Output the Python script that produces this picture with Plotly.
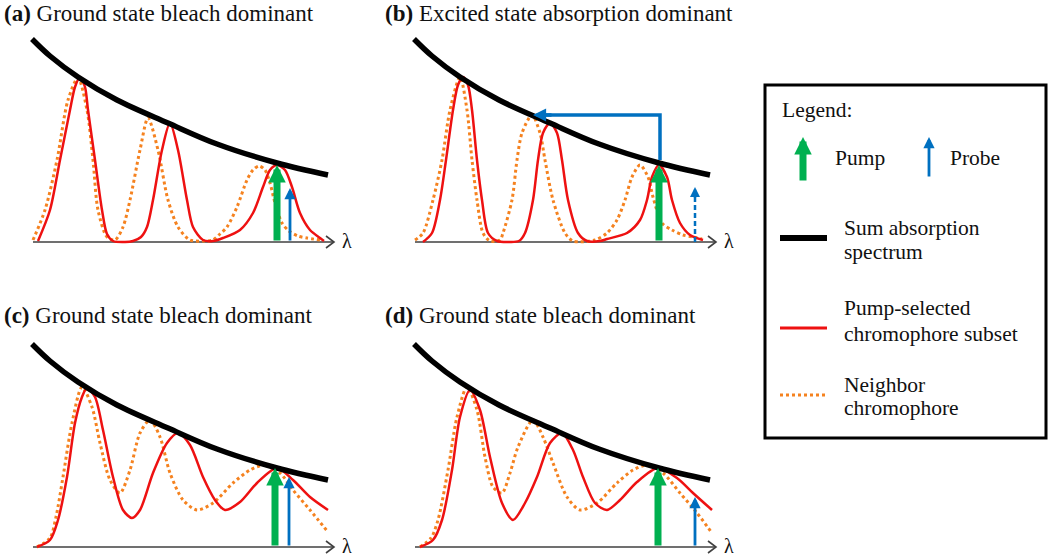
import plotly.graph_objects as go

W, H = 1050, 557

GREEN = "#00B050"
BLUE = "#0070C0"
RED = "#EE1111"
ORANGE = "#F5821F"
FONT = "Liberation Serif"

# -----------------------------
# Data (u = wavelength position, v = absorbance)
# -----------------------------
panels = ["a", "b", "c", "d"]
titles = [
    "Ground state bleach dominant",
    "Excited state absorption dominant",
    "Ground state bleach dominant",
    "Ground state bleach dominant",
]

# sum absorption spectrum, same in every panel
sum_u = [-1, 17, 45, 84, 135, 184, 244, 295]
sum_v = [203, 186, 165, 142, 119, 98, 79, 67]

# (a)
a_red_u = [5, 17, 27, 37, 42, 47, 52, 55, 62, 69, 74, 80, 92, 100, 108, 114, 120, 129, 137,
           145, 154, 160, 170, 180, 190, 207, 220, 230, 237, 244, 252, 259, 267, 277, 287, 291]
a_red_v = [1, 32, 82, 132, 155, 165, 155, 132, 82, 32, 8, 1, 0, 1, 5, 15, 42, 92, 119,
           92, 42, 15, 2, 1, 4, 12, 29, 55, 72, 77, 72, 55, 29, 12, 4, 1]
a_orange_u = [0, 12, 24, 35, 45, 54, 60, 65, 74, 82, 90, 97, 107, 115, 125, 135, 145, 157,
              172, 180, 187, 194, 204, 214, 220, 226, 232, 237, 242, 249, 256, 265, 274, 287]
a_orange_v = [2, 32, 82, 142, 164, 132, 82, 32, 5, 2, 15, 42, 92, 124, 92, 42, 15, 2,
              1, 2, 8, 15, 35, 62, 72, 76, 72, 59, 39, 19, 11, 6, 4, 2]

# (b)
b_red_u = [8, 17, 25, 31, 38, 43, 48, 53, 57, 62, 67, 73, 82, 95, 104, 110, 118, 123, 128, 135,
           142, 147, 153, 163, 172, 185, 192, 212, 225, 232, 237, 244, 252, 257, 265, 275, 288]
b_red_v = [0, 9, 42, 82, 132, 157, 165, 157, 132, 82, 42, 9, 1, 0, 1, 9, 42, 82, 109, 119,
           109, 82, 42, 9, 1, 1, 3, 9, 22, 42, 65, 77, 65, 42, 19, 7, 2]
b_orange_u = [0, 8, 18, 27, 35, 45, 52, 57, 62, 68, 75, 85, 88, 97, 102, 107, 117, 125, 130, 138,
              150, 158, 180, 192, 202, 210, 217, 225, 233, 238, 247, 257, 268, 278, 287]
b_orange_v = [2, 9, 42, 82, 132, 165, 132, 82, 42, 9, 1, 2, 9, 42, 82, 109, 127, 109, 82, 42,
              9, 1, 2, 9, 22, 42, 65, 77, 65, 45, 19, 12, 7, 5, 3]

# (c)
c_red_u = [4, 17, 25, 34, 42, 49, 54, 62, 70, 80, 90, 99, 107, 120, 134, 145, 157, 170, 182,
           192, 207, 224, 244, 260, 277, 295]
c_red_v = [0, 7, 27, 70, 124, 150, 159, 150, 117, 70, 37, 29, 37, 74, 104, 114, 102, 70, 47,
           37, 45, 64, 79, 67, 50, 37]
c_orange_u = [4, 17, 23, 30, 39, 49, 59, 67, 77, 87, 97, 107, 117, 127, 137, 150, 164, 180, 200,
              217, 232, 247, 260, 277, 295]
c_orange_v = [0, 9, 30, 70, 124, 160, 140, 104, 67, 54, 77, 114, 127, 110, 74, 47, 37, 44, 64,
              77, 82, 74, 57, 37, 15]

# (d)
d_red_u = [5, 18, 27, 37, 45, 55, 65, 75, 87, 98, 110, 122, 135, 147, 158, 168, 180, 192, 205,
           222, 243, 262, 278, 297]
d_red_v = [0, 7, 27, 77, 130, 157, 137, 90, 44, 27, 44, 70, 104, 114, 97, 70, 44, 37, 47,
           65, 79, 69, 54, 37]
d_orange_u = [5, 16, 23, 33, 42, 52, 62, 70, 78, 87, 95, 103, 118, 128, 138, 152, 165, 182, 202,
              218, 233, 248, 265, 282, 297]
d_orange_v = [0, 9, 27, 77, 130, 160, 137, 90, 60, 54, 74, 100, 127, 110, 84, 50, 37, 44, 64,
              77, 82, 74, 54, 34, 14]

red_u = [a_red_u, b_red_u, c_red_u, d_red_u]
red_v = [a_red_v, b_red_v, c_red_v, d_red_v]
orange_u = [a_orange_u, b_orange_u, c_orange_u, d_orange_u]
orange_v = [a_orange_v, b_orange_v, c_orange_v, d_orange_v]

# pump / probe positions and heights
pump_u = [244, 244, 242, 243]
pump_v = [77, 77, 79, 79]
probe_u = [257, 280, 256, 280]
probe_v = [54, 55, 70, 50]
probe_dashed = [False, True, False, False]

# excited state absorption path in (b)
esa_u = [245, 245, 118]
esa_v = [82, 127, 127]

AXIS_END = 301

# -----------------------------
# Panel placement (pixels of the picture)
# -----------------------------
origins = [(33, 242), (415, 242), (33, 547), (415, 547)]
title_pos = [(2, 13), (383, 13), (2, 315), (383, 315)]

fig = go.Figure()
layout_axes = {}
annotations = []
shapes = []

for k, p in enumerate(panels):
    x0, y0 = origins[k]
    sx = "" if k == 0 else str(k + 1)
    xa, ya = "x" + sx, "y" + sx
    layout_axes["xaxis" + sx] = dict(
        domain=[(x0 - 33) / W, (x0 + 347) / W], range=[-33, 347],
        visible=False, anchor=ya, fixedrange=True,
    )
    layout_axes["yaxis" + sx] = dict(
        domain=[1 - (y0 + 8) / H, 1 - (y0 - 222) / H], range=[-8, 222],
        visible=False, anchor=xa, fixedrange=True,
    )

    # wavelength axis with open arrow head
    fig.add_trace(go.Scatter(
        x=[0, AXIS_END, None, AXIS_END - 8, AXIS_END, AXIS_END - 8],
        y=[0, 0, None, 6, 0, -6],
        mode="lines", line=dict(color="#404040", width=1.6),
        xaxis=xa, yaxis=ya, showlegend=False, hoverinfo="skip",
    ))

    fig.add_trace(go.Scatter(
        x=orange_u[k], y=orange_v[k], mode="lines",
        line=dict(color=ORANGE, width=3, dash="dot", shape="spline", smoothing=0.8),
        xaxis=xa, yaxis=ya, showlegend=False, hoverinfo="skip",
    ))
    fig.add_trace(go.Scatter(
        x=red_u[k], y=red_v[k], mode="lines",
        line=dict(color=RED, width=2.5, shape="spline", smoothing=0.8),
        xaxis=xa, yaxis=ya, showlegend=False, hoverinfo="skip",
    ))
    fig.add_trace(go.Scatter(
        x=sum_u, y=sum_v, mode="lines",
        line=dict(color="black", width=5.5, shape="spline", smoothing=1),
        xaxis=xa, yaxis=ya, showlegend=False, hoverinfo="skip",
    ))

    if p == "b":
        fig.add_trace(go.Scatter(
            x=esa_u[:-1] + [esa_u[-1] + 8], y=esa_v, mode="lines",
            line=dict(color=BLUE, width=3.5),
            xaxis=xa, yaxis=ya, showlegend=False, hoverinfo="skip",
        ))
        annotations.append(dict(
            x=esa_u[-1], y=esa_v[-1], ax=esa_u[-1] + 20, ay=esa_v[-1],
            xref=xa, yref=ya, axref=xa, ayref=ya, text="", showarrow=True,
            arrowhead=2, arrowsize=0.75, arrowwidth=3.5, arrowcolor=BLUE, standoff=0,
        ))

    # pump arrow
    annotations.append(dict(
        x=pump_u[k], y=pump_v[k], ax=pump_u[k], ay=0,
        xref=xa, yref=ya, axref=xa, ayref=ya, text="", showarrow=True,
        arrowhead=2, arrowsize=0.5, arrowwidth=7, arrowcolor=GREEN, standoff=0,
    ))

    # probe arrow
    if probe_dashed[k]:
        fig.add_trace(go.Scatter(
            x=[probe_u[k], probe_u[k]], y=[0, probe_v[k] - 8], mode="lines",
            line=dict(color=BLUE, width=2.5, dash="5px,3px"),
            xaxis=xa, yaxis=ya, showlegend=False, hoverinfo="skip",
        ))
        annotations.append(dict(
            x=probe_u[k], y=probe_v[k], ax=probe_u[k], ay=probe_v[k] - 12,
            xref=xa, yref=ya, axref=xa, ayref=ya, text="", showarrow=True,
            arrowhead=2, arrowsize=0.8, arrowwidth=2.5, arrowcolor=BLUE, standoff=0,
        ))
    else:
        annotations.append(dict(
            x=probe_u[k], y=probe_v[k], ax=probe_u[k], ay=0,
            xref=xa, yref=ya, axref=xa, ayref=ya, text="", showarrow=True,
            arrowhead=2, arrowsize=0.8, arrowwidth=2.8, arrowcolor=BLUE, standoff=0,
        ))

    # lambda label
    annotations.append(dict(
        x=AXIS_END + 13, y=1, xref=xa, yref=ya, text="λ", showarrow=False,
        font=dict(family=FONT, size=20, color="#111"), xanchor="center", yanchor="middle",
    ))

    # panel title
    tx, ty = title_pos[k]
    annotations.append(dict(
        x=tx / W, y=1 - ty / H, xref="paper", yref="paper",
        text="<b>(" + p + ")</b> " + titles[k], showarrow=False,
        font=dict(family=FONT, size=23, color="#111"), xanchor="left", yanchor="middle",
    ))

# -----------------------------
# Hand drawn legend box
# -----------------------------
def px(x):
    return x / W


def py(y):
    return 1 - y / H


shapes.append(dict(
    type="rect", xref="paper", yref="paper",
    x0=px(765), x1=px(1046), y0=py(438), y1=py(85),
    line=dict(color="black", width=3), fillcolor="white", layer="below",
))

legend_lines = [
    (238, "black", 6, "solid"),
    (328, RED, 3, "solid"),
    (395, ORANGE, 3, "dot"),
]
for y, c, w, d in legend_lines:
    shapes.append(dict(
        type="line", xref="paper", yref="paper",
        x0=px(780), x1=px(827), y0=py(y), y1=py(y),
        line=dict(color=c, width=w, dash=d),
    ))

legend_texts = [
    (780, 110, "Legend:"),
    (833, 158, "Pump"),
    (948, 158, "Probe"),
    (842, 228, "Sum absorption"),
    (842, 252, "spectrum"),
    (842, 308, "Pump-selected"),
    (842, 334, "chromophore subset"),
    (842, 385, "Neighbor"),
    (842, 408, "chromophore"),
]
for x, y, t in legend_texts:
    annotations.append(dict(
        x=px(x), y=py(y), xref="paper", yref="paper", text=t, showarrow=False,
        font=dict(family=FONT, size=21.5, color="#111"), xanchor="left", yanchor="middle",
    ))

annotations.append(dict(
    x=px(803), y=py(137), xref="paper", yref="paper", ax=0, ay=45, text="",
    showarrow=True, arrowhead=2, arrowsize=0.5, arrowwidth=7, arrowcolor=GREEN, standoff=0,
))
annotations.append(dict(
    x=px(929), y=py(137), xref="paper", yref="paper", ax=0, ay=41, text="",
    showarrow=True, arrowhead=2, arrowsize=0.8, arrowwidth=2.8, arrowcolor=BLUE, standoff=0,
))

fig.update_layout(
    width=W, height=H,
    margin=dict(l=0, r=0, t=0, b=0),
    paper_bgcolor="white", plot_bgcolor="white",
    showlegend=False, hovermode=False,
    annotations=annotations, shapes=shapes,
    **layout_axes,
)

fig.write_html(
    "out.html",
    config={"displayModeBar": False, "staticPlot": True},
    post_script="document.body.style.margin = '0px';",
)
